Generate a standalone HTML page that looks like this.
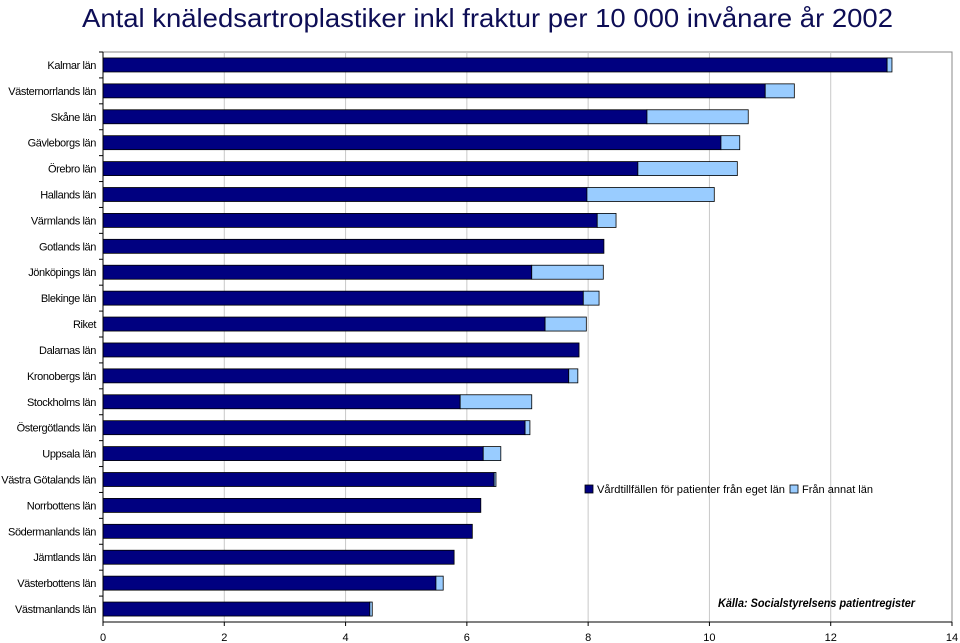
<!DOCTYPE html>
<html><head><meta charset="utf-8"><style>
body{margin:0;background:#fff;}
svg{display:block;font-family:"Liberation Sans",Arial,sans-serif;}
</style></head><body>
<svg id="chart" width="960" height="643" viewBox="0 0 960 643" xmlns="http://www.w3.org/2000/svg">
<text x="82" y="27" font-size="26" fill="#0d0d55" textLength="811" lengthAdjust="spacingAndGlyphs">Antal knäledsartroplastiker inkl fraktur per 10 000 invånare år 2002</text>
<g id="grid"></g>
<g id="bars"></g>
<g id="axes"></g>
<g>
<rect x="585" y="485" width="8" height="8" fill="#000080" stroke="#000" stroke-width="0.8"/>
<text x="597" y="493" font-size="11" fill="#000" textLength="188" lengthAdjust="spacingAndGlyphs">Vårdtillfällen för patienter från eget län</text>
<rect x="790" y="485" width="8" height="8" fill="#99ccff" stroke="#000" stroke-width="0.8"/>
<text x="802" y="493" font-size="11" fill="#000" textLength="71" lengthAdjust="spacingAndGlyphs">Från annat län</text>
</g>
<text x="718" y="607" font-size="11.5" font-style="italic" font-weight="bold" fill="#000" textLength="197" lengthAdjust="spacingAndGlyphs">Källa: Socialstyrelsens patientregister</text>
</svg>
<script>
const categories=["Kalmar län","Västernorrlands län","Skåne län","Gävleborgs län","Örebro län","Hallands län","Värmlands län","Gotlands län","Jönköpings län","Blekinge län","Riket","Dalarnas län","Kronobergs län","Stockholms län","Östergötlands län","Uppsala län","Västra Götalands län","Norrbottens län","Södermanlands län","Jämtlands län","Västerbottens län","Västmanlands län"];
const ownCounty=[12.93,10.92,8.97,10.19,8.82,7.98,8.15,8.26,7.07,7.92,7.29,7.85,7.68,5.89,6.96,6.27,6.45,6.23,6.09,5.79,5.49,4.40];
const otherCounty=[0.08,0.48,1.67,0.31,1.64,2.10,0.31,0,1.18,0.26,0.68,0,0.15,1.18,0.08,0.29,0.03,0,0,0,0.12,0.04];
const xTicks=[0,2,4,6,8,10,12,14];
const NS="http://www.w3.org/2000/svg";
const L=103,R=952,T=52,B=622;
const x=v=>L+(v-14*0)*(R-L)/14;
const step=(B-T)/categories.length;
const yc=i=>T+step*(i+0.5);
const bh=14;
function mk(tag,attrs,parent){const e=document.createElementNS(NS,tag);for(const k in attrs)e.setAttribute(k,attrs[k]);parent.appendChild(e);return e;}
const grid=document.getElementById('grid'),bars=document.getElementById('bars'),axes=document.getElementById('axes');
const frame=mk('rect',{x:L,y:T,width:R-L,height:B-T,fill:'none',stroke:'#888','stroke-width':1},grid);


xTicks.forEach(t=>{
 if(t>0&&t<14){const g=mk('line',{x1:x(t),x2:x(t),y1:T,y2:B,stroke:'#c8c8c8','stroke-width':1},grid);
 
 }
 const tk=mk('line',{x1:x(t),x2:x(t),y1:B,y2:B+4,stroke:'#000'},axes);
 
 
 const tl=mk('text',{x:x(t),y:641,'font-size':11,'text-anchor':'middle',fill:'#000'},axes);
 tl.textContent=t;
 
 
});
const xa=mk('line',{x1:L,x2:R,y1:B,y2:B,stroke:'#000'},axes);


const ya=mk('line',{x1:L,x2:L,y1:T,y2:B,stroke:'#000'},axes);


categories.forEach((c,i)=>{
 const y=yc(i);
 const lab=mk('text',{x:96,y:y+4,'font-size':11,'text-anchor':'end',fill:'#000','letter-spacing':'-0.4'},axes);
 lab.textContent=c;
 
 
 const tk=mk('line',{x1:L-4,x2:L,y1:T+step*i,y2:T+step*i,stroke:'#000'},axes);
 
 
 const b1=mk('rect',{x:x(0),y:y-bh/2,width:x(ownCounty[i])-x(0),height:bh,fill:'#000080',stroke:'#000','stroke-width':0.8},bars);
 
 
 if(otherCounty[i]>0){
  const b2=mk('rect',{x:x(ownCounty[i]),y:y-bh/2,width:x(ownCounty[i]+otherCounty[i])-x(ownCounty[i]),height:bh,fill:'#99ccff',stroke:'#000','stroke-width':0.8},bars);
  
  
 }
});
</script>
</body></html>
